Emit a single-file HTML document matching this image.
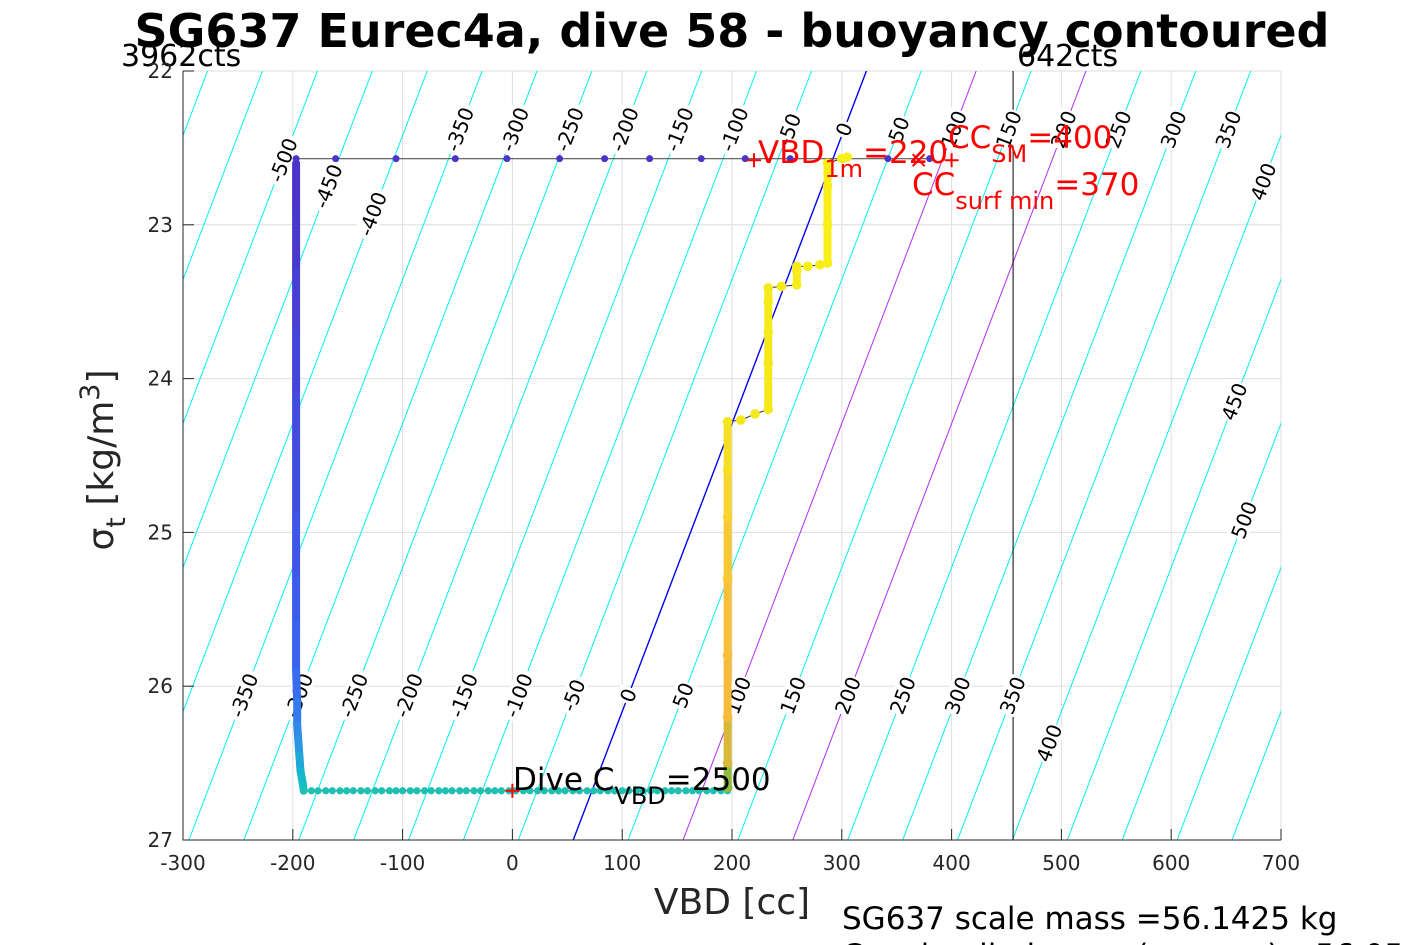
<!DOCTYPE html>
<html><head><meta charset="utf-8"><style>
body{margin:0;background:#fff;}
svg{display:block;font-family:"Liberation Sans","DejaVu Sans",sans-serif;}
</style></head><body>
<svg id="chart" width="1417" height="945" viewBox="0 0 1417 945" xmlns="http://www.w3.org/2000/svg">
<defs><clipPath id="pc"><rect x="183" y="71" width="1098" height="769"/></clipPath></defs>
<rect width="1417" height="945" fill="#fff"/>
<text x="732" y="47" text-anchor="middle" font-family="DejaVu Sans, sans-serif" font-weight="bold" font-size="46" fill="#000">SG637 Eurec4a, dive 58 - buoyancy contoured</text>
<text x="121" y="66" font-family="DejaVu Sans, sans-serif" font-size="30" fill="#000">3962cts</text>
<text x="1017" y="66" font-family="DejaVu Sans, sans-serif" font-size="30" fill="#000">642cts</text>
<g id="grid"></g>
<g id="contours" clip-path="url(#pc)"></g>
<g id="clabels"></g>
<g id="series" clip-path="url(#pc)"></g>
<g id="axes"></g>
<g id="annot"></g>
<text x="732" y="914" text-anchor="middle" font-family="DejaVu Sans, sans-serif" font-size="36" fill="#262626">VBD [cc]</text>
<text transform="translate(113,460) rotate(-90)" text-anchor="middle" font-family="DejaVu Sans, sans-serif" font-size="36" fill="#262626">σ<tspan font-size="27" dy="12">t</tspan><tspan dy="-12"> [kg/m</tspan><tspan font-size="27" dy="-14">3</tspan><tspan dy="14">]</tspan></text>
<text x="842" y="929" font-family="DejaVu Sans, sans-serif" font-size="31" fill="#000">SG637 scale mass =56.1425 kg</text>
<text x="842" y="966" font-family="DejaVu Sans, sans-serif" font-size="31" fill="#000">C<tspan font-size="22" dy="6">VBD</tspan><tspan dy="-6"> implied mass (sensors) =56.05</tspan></text>
</svg>
<script>
const xTicks=[-300,-200,-100,0,100,200,300,400,500,600,700];
const yTicks=[22,23,24,25,26,27];
const contourLevels=[-650,-600,-550,-500,-450,-400,-350,-300,-250,-200,-150,-100,-50,0,50,100,150,200,250,300,350,400,450,500,550,600,650];
const magentaLevels=[100,200];
const labelValues=[-500,-450,-400,-350,-300,-250,-200,-150,-100,-50,0,50,100,150,200,250,300,350,400,450,500,-350,-300,-250,-200,-150,-100,-50,0,50,100,150,200,250,300,350,400];
const labelSigma=[22.58,22.75,22.93,22.38,22.38,22.38,22.38,22.38,22.38,22.38,22.38,22.38,22.38,22.38,22.38,22.38,22.38,22.38,22.72,24.15,24.92,26.06,26.06,26.06,26.06,26.06,26.06,26.06,26.06,26.06,26.06,26.06,26.06,26.06,26.06,26.06,26.37];
const surfaceVBD=[380,342,253,212,172,125,84,43,-5,-52,-106,-161,-197];
const surfaceSigma=[22.57,22.57,22.57,22.57,22.57,22.57,22.57,22.57,22.57,22.57,22.57,22.57,22.57];
const descentVBD=[-197,-197,-197,-197,-197,-197,-197,-197,-197,-197,-196,-196,-195,-194,-193,-191,-190];
const descentSigma=[22.6,22.9,23.3,23.7,24.1,24.5,24.9,25.3,25.6,25.9,26.1,26.25,26.35,26.45,26.55,26.63,26.68];
const descentColor=["#4a35c8","#4838cc","#463fd2","#4445d8","#424bdc","#404fe0","#3e55e6","#3c5cea","#3a64ee","#386df0","#347bee","#2f8ae8","#2a98e2","#22a8d8","#18b6cc","#12bfc2","#18c0b6"];
const bottomVBD=[-190,-183,-177,-170,-164,-157,-151,-145,-138,-132,-125,-119,-112,-106,-100,-93,-87,-80,-74,-67,-61,-55,-48,-42,-35,-29,-22,-16,-10,-3,3,10,16,23,29,36,42,48,55,61,68,74,80,87,93,100,106,113,119,126,132,139,145,151,158,164,170,177,183,190,196];
const bottomSigma=26.68;
const ascentVBD=[196,196,196,196,196,196,196,196,208,221,233,233,233,233,233,245,259,259,259,269,280,287,287,287,287,300,305];
const ascentSigma=[26.66,26.5,26.2,25.8,25.3,24.9,24.6,24.28,24.27,24.23,24.2,23.9,23.7,23.5,23.41,23.4,23.39,23.3,23.27,23.27,23.26,23.25,23.0,22.75,22.6,22.57,22.56];
const ascentColor=["#8fbd3c","#d8b93a","#f7bb3c","#f9bf3a","#f8c834","#f7d52c","#f5df24","#f4e61e","#f4e81e","#f4e81e","#f5e91c","#f5e91c","#f5ea1c","#f6eb1a","#f6eb1a","#f6eb1a","#f7ec1a","#f7ec1a","#f7ec1a","#f7ed18","#f8ed18","#f8ee18","#f8ee18","#f9ef16","#f9ef16","#f9f016","#f9f016"];
const vlineVBD=456;
const NS="http://www.w3.org/2000/svg";
const X=v=>183+(v+300)*1.098;
const Y=s=>71+(s-22)*153.8;
const cVBD=(c,s)=>55.4+c+53.4*(27-s);
function mk(tag,attrs,parent){const e=document.createElementNS(NS,tag);for(const k in attrs)e.setAttribute(k,attrs[k]);parent.appendChild(e);return e;}
const grid=document.getElementById('grid'),cont=document.getElementById('contours'),cl=document.getElementById('clabels'),ser=document.getElementById('series'),axes=document.getElementById('axes'),an=document.getElementById('annot');
xTicks.forEach(t=>{const l=mk('line',{x1:X(t),x2:X(t),y1:71,y2:840,stroke:'#dedede','stroke-width':1},grid);

});
yTicks.forEach(t=>{const l=mk('line',{x1:183,x2:1281,y1:Y(t),y2:Y(t),stroke:'#dedede','stroke-width':1},grid);

});
contourLevels.forEach(c=>{const mag=magentaLevels.includes(c);const col=c===0?'#0000ee':(mag?'#b42cf0':'#00f0f0');
const l=mk('line',{x1:X(cVBD(c,27)),y1:Y(27),x2:X(cVBD(c,22)),y2:Y(22),stroke:col,'stroke-width':c===0?1.4:1},cont);

});
const vl=mk('line',{x1:X(vlineVBD),x2:X(vlineVBD),y1:71,y2:840,stroke:'#000','stroke-width':1},cont);


labelValues.forEach((v,i)=>{const s=labelSigma[i];const x=X(cVBD(v,s)),y=Y(s);
const g=mk('g',{transform:`translate(${x},${y}) rotate(-69)`},cl);


const w=v.toString().length*12+4;
mk('rect',{x:-w/2,y:-11,width:w,height:21,fill:'#fff'},g);
const t=mk('text',{x:0,y:7,'text-anchor':'middle','font-size':20,fill:'#000','font-family':'DejaVu Sans, sans-serif'},g);t.textContent=v;});
function poly(vs,ss,col,w,name){const pts=vs.map((v,i)=>X(v)+','+Y(Array.isArray(ss)?ss[i]:ss)).join(' ');const p=mk('polyline',{points:pts,fill:'none',stroke:col,'stroke-width':w},ser);

}
poly(surfaceVBD,surfaceSigma,'#555',1.2,'surface-track');
poly(descentVBD,descentSigma,'#333',1,'descent-track');
poly(bottomVBD,bottomSigma,'#333',1,'bottom-track');
poly(ascentVBD,ascentSigma,'#333',1,'ascent-track');
for(let i=0;i<descentVBD.length-1;i++){const l=mk('line',{x1:X(descentVBD[i]),y1:Y(descentSigma[i]),x2:X(descentVBD[i+1]),y2:Y(descentSigma[i+1]),stroke:descentColor[i],'stroke-width':8,'stroke-linecap':'round'},ser);

}
for(let i=0;i<ascentVBD.length-1;i++){const l=mk('line',{x1:X(ascentVBD[i]),y1:Y(ascentSigma[i]),x2:X(ascentVBD[i+1]),y2:Y(ascentSigma[i+1]),stroke:ascentColor[i],'stroke-width':ascentVBD[i]===ascentVBD[i+1]?8:0,'stroke-linecap':'round'},ser);

}
surfaceVBD.forEach((v,i)=>{const c=mk('circle',{cx:X(v),cy:Y(surfaceSigma[i]),r:3.5,fill:'#4a33c6'},ser);

});
bottomVBD.forEach(v=>{const c=mk('circle',{cx:X(v),cy:Y(bottomSigma),r:3.6,fill:'#1fc0b2'},ser);

});
ascentVBD.forEach((v,i)=>{const c=mk('circle',{cx:X(v),cy:Y(ascentSigma[i]),r:4.8,fill:ascentColor[i]},ser);

});
const ax=mk('path',{d:'M183,71 V840 H1281',fill:'none',stroke:'#262626','stroke-width':1},axes);


xTicks.forEach(t=>{mk('line',{x1:X(t),x2:X(t),y1:840,y2:829,stroke:'#262626'},axes);
const tx=mk('text',{x:X(t),y:870,'text-anchor':'middle','font-size':20,fill:'#262626','font-family':'DejaVu Sans, sans-serif'},axes);tx.textContent=t;

});
yTicks.forEach(t=>{mk('line',{x1:183,x2:194,y1:Y(t),y2:Y(t),stroke:'#262626'},axes);
const tx=mk('text',{x:173,y:Y(t)+7,'text-anchor':'end','font-size':20,fill:'#262626','font-family':'DejaVu Sans, sans-serif'},axes);tx.textContent=t;

});
function plus(x,y){const p=mk('path',{d:`M${x-7},${y}H${x+7}M${x},${y-7}V${y+7}`,stroke:'#f00','stroke-width':2},an);

}
plus(X(220),Y(22.58));plus(X(400),Y(22.58));plus(X(0),Y(26.68));
const xm=mk('path',{d:`M${X(370)-6},${Y(22.58)-6}L${X(370)+6},${Y(22.58)+6}M${X(370)+6},${Y(22.58)-6}L${X(370)-6},${Y(22.58)+6}`,stroke:'#f00','stroke-width':2},an);


an.insertAdjacentHTML('beforeend',
`<text x="758" y="163" font-family="DejaVu Sans, sans-serif" font-size="31" fill="#f00">VBD<tspan font-size="24" dy="14">1m</tspan><tspan dy="-14">=220</tspan></text>
<text x="948" y="148" font-family="DejaVu Sans, sans-serif" font-size="31" fill="#f00">CC<tspan font-size="24" dy="14">SM</tspan><tspan dy="-14">=400</tspan></text>
<text x="912" y="195" font-family="DejaVu Sans, sans-serif" font-size="31" fill="#f00">CC<tspan font-size="24" dy="14">surf min</tspan><tspan dy="-14">=370</tspan></text>
<text x="513" y="790" font-family="DejaVu Sans, sans-serif" font-size="31" fill="#000">Dive C<tspan font-size="24" dy="14">VBD</tspan><tspan dy="-14">=2500</tspan></text>`);
</script>
</body></html>
